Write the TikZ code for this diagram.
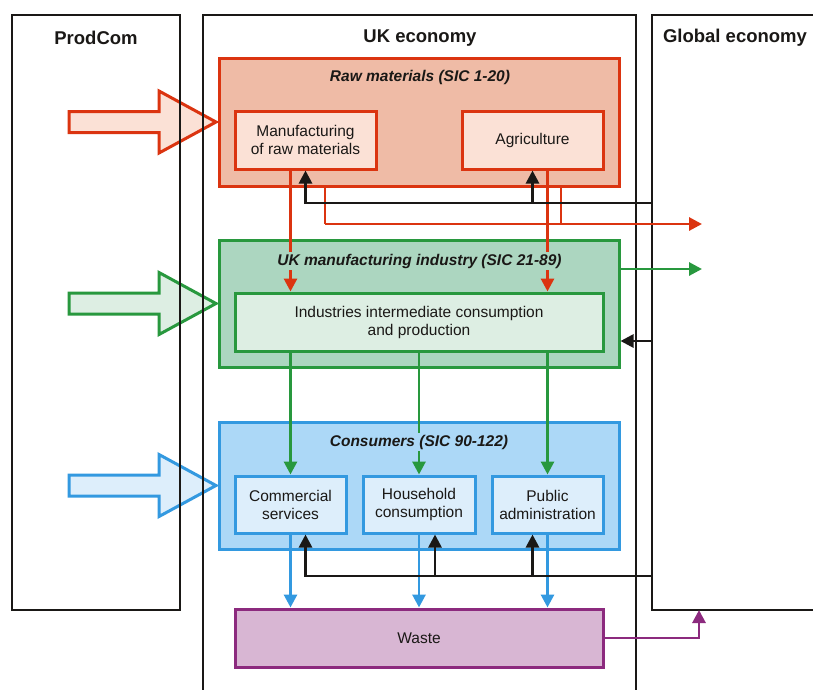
\documentclass[tikz,border=0pt]{standalone}
\usepackage{fontspec}
\setmainfont{Liberation Sans}
\usetikzlibrary{arrows.meta,calc}
\definecolor{redS}{RGB}{219,52,16}
\definecolor{redF}{RGB}{239,187,166}
\definecolor{redL}{RGB}{251,225,214}
\definecolor{grnS}{RGB}{40,152,62}
\definecolor{grnF}{RGB}{172,214,192}
\definecolor{grnL}{RGB}{221,238,227}
\definecolor{bluS}{RGB}{51,153,224}
\definecolor{bluF}{RGB}{172,216,247}
\definecolor{bluL}{RGB}{221,238,251}
\definecolor{purS}{RGB}{140,42,126}
\definecolor{purF}{RGB}{216,182,211}
\definecolor{ink}{RGB}{26,24,22}
\begin{document}
\begin{tikzpicture}[x=1pt,y=-1pt,
  frame/.style={draw=ink,line width=2.4pt,inner sep=0pt},
  group/.style={line width=3pt,inner sep=0pt},
  unit/.style={line width=3pt,inner sep=0pt,align=center,font=\fontsize{15.5}{18}\selectfont,text=ink},
  head/.style={font=\fontsize{18.5}{21}\bfseries\selectfont,text=ink,inner sep=0pt},
  gtitle/.style={font=\fontsize{15.5}{18}\bfseries\itshape\selectfont,text=ink,inner sep=1.5pt},
  flow/.style={line width=2.9pt,-{Triangle[length=13pt,width=13pt]}},
  conn/.style={line width=2.9pt},
  blk/.style={line width=2.7pt,draw=ink,-{Triangle[length=13pt,width=13pt]}},
  big/.style={line width=3pt,line join=miter}
]
\useasboundingbox (0,0) rectangle (813,689);
\clip (0,0) rectangle (813,689);
\fill[white] (0,0) rectangle (813,689);

% group boxes
\node[group,draw=redS,fill=redF,minimum width=400pt,minimum height=128pt] (raw) at (419,122) {};
\node[group,draw=grnS,fill=grnF,minimum width=400pt,minimum height=127pt] (manu) at (419,303.5) {};
\node[group,draw=bluS,fill=bluF,minimum width=400pt,minimum height=127pt] (cons) at (419,485.5) {};

% big input arrows
\draw[big,draw=redS,fill=redL] (raw.west) ++(-1.5,0) -- ++(-57,-31) -- ++(0,20.5) -- ++(-90,0) -- ++(0,21) -- ++(90,0) -- ++(0,20.5) -- cycle;
\draw[big,draw=grnS,fill=grnL] (manu.west) ++(-1.5,0) -- ++(-57,-31) -- ++(0,20.5) -- ++(-90,0) -- ++(0,21) -- ++(90,0) -- ++(0,20.5) -- cycle;
\draw[big,draw=bluS,fill=bluL] (cons.west) ++(-1.5,0) -- ++(-57,-31) -- ++(0,20.5) -- ++(-90,0) -- ++(0,21) -- ++(90,0) -- ++(0,20.5) -- cycle;

% frames
\node[frame,minimum width=168pt,minimum height=595pt] (prod) at (96,312.5) {};
\node[frame,minimum width=433pt,minimum height=705pt] (uk) at (419.5,367.5) {};
\node[frame,minimum width=188pt,minimum height=595pt] (glob) at (746,312.5) {};
\node[head] (hprod) at (96,38) {ProdCom};
\node[head] (huk) at (420,38) {UK economy};
\node[head] (hglob) at (735,38) {Global economy};

% unit boxes
\node[unit,draw=redS,fill=redL,minimum width=141pt,minimum height=58pt] (mraw) at (305.5,140) {Manufacturing\\of raw materials};
\node[unit,draw=redS,fill=redL,minimum width=141pt,minimum height=58pt] (agri) at (532.5,140) {Agriculture};
\node[unit,draw=grnS,fill=grnL,minimum width=368pt,minimum height=58pt] (ind) at (419,322) {Industries intermediate consumption\\and production};
\node[unit,draw=bluS,fill=bluL,minimum width=111pt,minimum height=57pt] (cs) at (290.5,504.5) {Commercial\\services};
\node[unit,draw=bluS,fill=bluL,minimum width=112pt,minimum height=57pt] (hh) at (419,504.5) {Household\\consumption};
\node[unit,draw=bluS,fill=bluL,minimum width=111pt,minimum height=57pt] (pa) at (547.5,504.5) {Public\\administration};
\node[unit,draw=purS,fill=purF,minimum width=368pt,minimum height=58pt] (waste) at (419,638) {Waste};

% coordinates for free ends
\coordinate (rx1) at (325,224);
\coordinate (rx2) at (561,224);
\coordinate (rout) at (702,224);
\coordinate (b1) at (652,203);
\coordinate (gout) at (702,269);
\coordinate (b2) at (652,341);
\coordinate (b3) at (652,576);
\coordinate (pw) at (699,610);

% red flows
\draw[flow,redS] (mraw.south -| cs.north) -- (ind.north -| cs.north);
\draw[flow,redS] (agri.south -| pa.north) -- (ind.north -| pa.north);
\draw[conn,redS] (raw.south -| rx1) -- (rx1);
\draw[conn,redS] (raw.south -| rx2) -- (rx2);
\draw[flow,redS] (rx1) -- (rout);

% black flows from global economy to raw materials
\draw[blk] (b1) -| (mraw.south);
\draw[blk] (b1 -| agri.south) -- (agri.south);

% green flows
\draw[flow,grnS] (manu.east |- gout) -- (gout);
\draw[blk] (b2) -- (manu.east |- b2);
\draw[flow,grnS] (ind.south -| cs.north) -- (cs.north);
\draw[flow,grnS] (ind.south -| hh.north) -- (hh.north);
\draw[flow,grnS] (ind.south -| pa.north) -- (pa.north);

% blue flows to waste
\draw[flow,bluS] (cs.south) -- (waste.north -| cs.south);
\draw[flow,bluS] (hh.south) -- (waste.north -| hh.south);
\draw[flow,bluS] (pa.south) -- (waste.north -| pa.south);

% black flows from global economy to consumers
\draw[blk] (b3) -| (cs.south -| mraw.south);
\draw[blk] (b3 -| hh.south) ++(16,0) -- ([xshift=16pt]hh.south);
\draw[blk] (b3 -| agri.south) -- (pa.south -| agri.south);

% waste to global economy
\draw[flow,purS] (waste.east) -| (pw);

% group titles
\node[gtitle,fill=redF] (traw) at (420,77) {Raw materials (SIC 1-20)};
\node[gtitle,fill=grnF] (tmanu) at (419.5,261) {UK manufacturing industry (SIC 21-89)};
\node[gtitle,fill=bluF] (tcons) at (419,442) {Consumers (SIC 90-122)};
\end{tikzpicture}
\end{document}
